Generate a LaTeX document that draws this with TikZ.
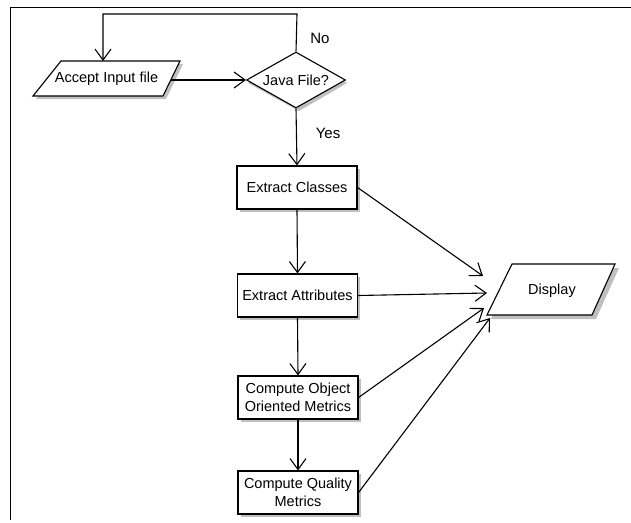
\documentclass[tikz,border=0pt]{standalone}
\usepackage{fontspec}
\setmainfont{Liberation Sans}
\usetikzlibrary{arrows.meta,shapes.geometric}
\begin{document}
\begin{tikzpicture}[x=1pt,y=-1pt,
  every node/.style={font=\fontsize{14.5}{18}\selectfont},
  conn/.style={line width=1.1pt,-{Straight Barb[length=11pt,width=16pt]}},
  proc/.style={draw,line width=1.1pt,fill=white,minimum width=120pt,minimum height=43pt,align=center,inner sep=1pt},
  shadowfill/.style={fill=gray!50,draw=none},
  lbl/.style={font=\fontsize{15}{18}\selectfont}]
\useasboundingbox (0,0) rectangle (631,522);
\fill[white] (0,0) rectangle (631,522);
% frame
\draw[line width=1.6pt] (631,7.5) -- (10.5,7.5) -- (10.5,520);
% Accept Input file (parallelogram)
\fill[shadowfill] (36,99) -- (64,64) -- (183,64) -- (166,99) -- cycle;
\draw[line width=1.1pt,fill=white] (33,96) -- (61,61) -- (180,61) -- (163,96) -- cycle;
\node (acc) at (106.5,79) {Accept Input file};
\coordinate (acctop) at (103,61);
\coordinate (accright) at (171,80);
% Java file diamond
\fill[shadowfill] (248,83) -- (299,55) -- (347,83) -- (299,111) -- cycle;
\node[draw,line width=1.1pt,fill=white,shape=diamond,aspect=1.79,minimum width=99pt,minimum height=56pt,inner sep=0pt] (java) at (296,80) {Java File?};
% process boxes
\fill[shadowfill] (240,169) rectangle (360,212);
\fill[shadowfill] (240,277) rectangle (360,320);
\fill[shadowfill] (241,379) rectangle (361,422);
\fill[shadowfill] (241,474) rectangle (361,517);
\node[proc] (cls) at (297,187.5) {Extract Classes};
\node[proc] (att) at (297.5,295.5) {Extract Attributes};
\node[proc] (oo) at (298,397.5) {Compute Object\\Oriented Metrics};
\node[proc] (q) at (298,492.5) {Compute Quality\\Metrics};
% Display parallelogram
\fill[shadowfill] (491,319) -- (516,268) -- (619,268) -- (596,319) -- cycle;
\draw[line width=1.1pt,fill=white] (487,315) -- (512,264) -- (615,264) -- (592,315) -- cycle;
\node (disp) at (552,291) {Display};
\coordinate (d1) at (483,276);
\coordinate (d2) at (487,293);
\coordinate (d3) at (484,308);
\coordinate (d4) at (490,318);
% connectors
\coordinate (loopR) at (297,14);
\coordinate (loopL) at (103,14);
\draw[conn] (java.north) -- (loopR) -- (loopL) -- (acctop);
\draw[conn] (accright) -- (java.west);
\draw[conn] (java.south) -- (cls.north);
\draw[conn] (cls.south) -- (att.north);
\draw[conn] (att.south) -- (oo.north);
\draw[conn] (oo.south) -- (q.north);
\draw[conn] (cls.east) -- (d1);
\draw[conn] (att.east) -- (d2);
\draw[conn] (oo.east) -- (d3);
\draw[conn] (q.east) -- (d4);
% labels
\node[lbl] (no) at (320,38) {No};
\node[lbl] (yes) at (328,133) {Yes};
\end{tikzpicture}
\end{document}
